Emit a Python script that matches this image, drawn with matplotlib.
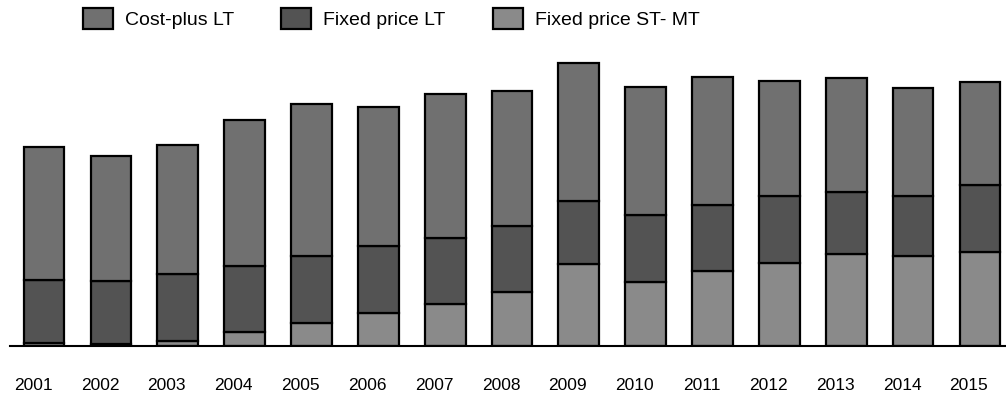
import matplotlib
matplotlib.use("Agg")
import matplotlib.pyplot as plt
import matplotlib.transforms as mtransforms
import numpy as np

plt.rcParams['font.family'] = ['Liberation Sans', 'DejaVu Sans']

years = ["2001", "2002", "2003", "2004", "2005", "2006", "2007", "2008",
         "2009", "2010", "2011", "2012", "2013", "2014", "2015"]
fixed_st_mt = [3, 2, 5, 14, 23, 33, 42, 54, 82, 64, 75, 83, 92, 90, 94]
fixed_lt = [63, 63, 67, 66, 67, 67, 66, 66, 63, 67, 66, 67, 62, 60, 67]
cost_plus_lt = [133, 125, 129, 146, 152, 139, 144, 135, 138, 128, 128, 115, 114, 108, 103]

series_labels = ["Cost-plus LT", "Fixed price LT", "Fixed price ST- MT"]

fig = plt.figure(figsize=(10.06, 4.0), dpi=100)
ax = fig.add_axes([10 / 1006, 54 / 400, 996 / 1006, 286 / 400])

x = np.arange(len(years))
w = 0.61
st = np.array(fixed_st_mt)
lt = np.array(fixed_lt)
cp = np.array(cost_plus_lt)

b3 = ax.bar(x, st, w, color="#8a8a8a", edgecolor="black", linewidth=1.6)
b2 = ax.bar(x, lt, w, bottom=st, color="#535353", edgecolor="black", linewidth=1.6)
b1 = ax.bar(x, cp, w, bottom=st + lt, color="#707070", edgecolor="black", linewidth=1.6)

ax.set_xlim(-0.51, 14.39)
ax.set_ylim(0, 286)
ax.set_xticks(x)
ax.set_xticklabels(years, fontsize=12.5)
ax.tick_params(axis='x', length=0, pad=23)
ax.set_yticks([])
for s in ["top", "right", "left"]:
    ax.spines[s].set_visible(False)
ax.spines["bottom"].set_linewidth(1.5)

offset = mtransforms.ScaledTranslation(-11 / 100, 0, fig.dpi_scale_trans)
for lbl in ax.get_xticklabels():
    lbl.set_transform(lbl.get_transform() + offset)

leg = fig.legend([b1, b2, b3], series_labels, loc="upper left",
                 bbox_to_anchor=(83 / 1006, 1 - 8 / 400), ncol=3, frameon=False,
                 fontsize=14, handlelength=1.54, handleheight=1.29,
                 handletextpad=0.62, columnspacing=2.42, borderpad=0,
                 borderaxespad=0)

fig.savefig("out.png", dpi=100)
